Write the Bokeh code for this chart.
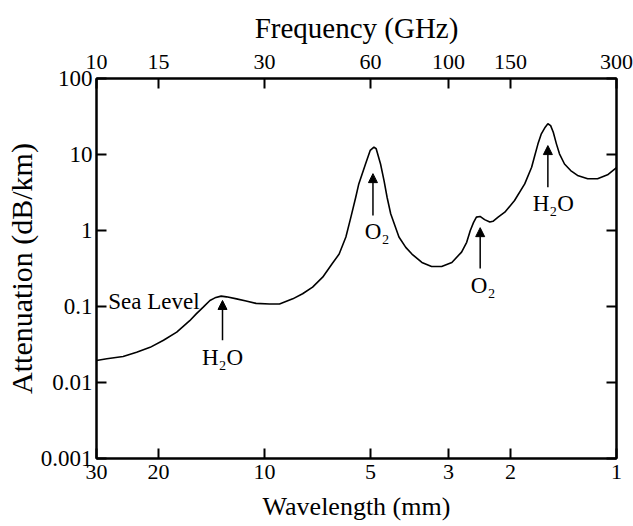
from bokeh.plotting import figure
from bokeh.models import LogAxis, FixedTicker, Range1d, Arrow, NormalHead, Label
from bokeh.embed import file_html
from bokeh.resources import INLINE

# Sea-level attenuation curve (x: frequency in GHz)
frequency_ghz = [10, 10.7, 11.9, 13.0, 14.2, 15.5, 16.9, 18.4, 19.2, 20.1,
                 21.0, 21.7, 22.6, 23.4, 25.0, 26.6, 28.4, 31.0, 33.1, 36.1,
                 38.5, 41.1, 43.9, 46.7, 48.9, 51.1, 52.8, 54.5, 55.6, 58.1,
                 59.9, 61.4, 62.3, 64.1, 65.6, 66.9, 68.5, 72.3, 75.6, 78.7,
                 84.0, 89.5, 95.6, 102.2, 108.9, 112.6, 115.3, 117.8, 120.0, 122.9,
                 126.6, 131.0, 133.7, 138.3, 144.5, 154.0, 164.6, 172.2, 175.8, 179.5,
                 183.5, 188.2, 191.5, 195.0, 198.4, 202.5, 206.6, 213.5, 222.3, 232.5,
                 248.5, 265.0, 283.0, 300.0]
attenuation_db_km = [0.0195, 0.0205, 0.022, 0.025, 0.029, 0.036, 0.046, 0.065, 0.080, 0.098,
                     0.12, 0.13, 0.137, 0.134, 0.126, 0.118, 0.110, 0.108, 0.108, 0.126,
                     0.147, 0.18, 0.243, 0.365, 0.49, 0.82, 1.5, 2.74, 4.1, 7.5,
                     11.3, 12.5, 11.9, 7.5, 4.5, 2.74, 1.66, 0.82, 0.6, 0.49,
                     0.38, 0.336, 0.336, 0.38, 0.52, 0.7, 1.0, 1.28, 1.5, 1.53,
                     1.39, 1.29, 1.32, 1.5, 1.74, 2.48, 4.1, 6.8, 9.7, 13.8,
                     18.7, 22.9, 25.4, 24.0, 19.6, 13.8, 10.2, 7.5, 6.15, 5.3,
                     4.79, 4.8, 5.4, 6.7]

# Axis ticks
freq_ticks = [10, 15, 30, 60, 100, 150, 300]
freq_tick_labels = ["10", "15", "30", "60", "100", "150", "300"]
wavelength_tick_labels = ["30", "20", "10", "5", "3", "2", "1"]
att_ticks = [0.001, 0.01, 0.1, 1, 10, 100]
att_tick_labels = ["0.001", "0.01", "0.1", "1", "10", "100"]

# Annotations: (label, arrow x, arrow tail y, arrow head y, label x, label y)
annotations = [
    ("H\u2082O", 22.8, 0.036, 0.12, 22.8, 0.031),
    ("O\u2082", 61.0, 1.57, 5.6, 62.7, 1.4),
    ("O\u2082", 123.0, 0.316, 1.09, 125.4, 0.28),
    ("H\u2082O", 191.5, 3.7, 13.1, 198.4, 3.26),
]

FONT = "Liberation Serif"

p = figure(width=633, height=526, x_axis_type="log", y_axis_type="log",
           x_range=Range1d(10, 300), y_range=Range1d(0.001, 100),
           output_backend="svg", toolbar_location=None,
           min_border_left=96, min_border_right=17, min_border_top=78, min_border_bottom=68)
p.grid.visible = False
p.outline_line_color = "black"
p.outline_line_width = 2
p.background_fill_color = "white"
p.border_fill_color = "white"


def style_axis(ax, font_size="23px"):
    ax.axis_line_width = 2
    ax.axis_line_color = "black"
    ax.major_tick_in = 10
    ax.major_tick_out = 0
    ax.major_tick_line_width = 2
    ax.minor_tick_line_color = None
    ax.major_label_text_font = FONT
    ax.major_label_text_font_size = font_size
    ax.major_label_text_color = "black"
    ax.axis_label_text_font = FONT
    ax.axis_label_text_font_style = "normal"
    ax.axis_label_text_color = "black"


# Bottom axis: wavelength labels at matching frequencies
xb = p.xaxis[0]
style_axis(xb, "22px")
xb.ticker = FixedTicker(ticks=freq_ticks)
xb.major_label_overrides = {f: w for f, w in zip(freq_ticks, wavelength_tick_labels)}
xb.axis_label = "Wavelength (mm)"
xb.axis_label_text_font_size = "26px"
xb.major_label_standoff = 6
xb.axis_label_standoff = 10

# Left axis
yl = p.yaxis[0]
style_axis(yl)
yl.ticker = FixedTicker(ticks=att_ticks)
yl.major_label_overrides = {v: s for v, s in zip(att_ticks, att_tick_labels)}
yl.axis_label = "Attenuation (dB/km)"
yl.axis_label_text_font_size = "30px"
yl.major_label_standoff = 4
yl.axis_label_standoff = 0

# Top axis: frequency
xt = LogAxis(ticker=FixedTicker(ticks=freq_ticks))
style_axis(xt, "22px")
xt.major_label_overrides = {f: s for f, s in zip(freq_ticks, freq_tick_labels)}
xt.axis_label = "Frequency (GHz)"
xt.axis_label_text_font_size = "29px"
xt.major_label_standoff = 10
xt.axis_label_standoff = 8
p.add_layout(xt, "above")

# Right axis: ticks only
yr = LogAxis(ticker=FixedTicker(ticks=att_ticks))
style_axis(yr, "1px")
yr.major_label_overrides = {v: "" for v in att_ticks}
yr.major_label_standoff = 0
yr.axis_label_standoff = 0
p.add_layout(yr, "right")

p.line(frequency_ghz, attenuation_db_km, line_color="black", line_width=1.6)

for text, x, y0, y1, xlab, ylab in annotations:
    p.add_layout(Arrow(end=NormalHead(size=9, fill_color="black", line_color="black", line_width=1),
                       x_start=x, y_start=y0, x_end=x, y_end=y1,
                       line_color="black", line_width=1.5))
    p.add_layout(Label(x=xlab, y=ylab, text=text, text_align="center", text_baseline="top",
                       text_font=FONT, text_font_size="23px", text_color="black"))

p.add_layout(Label(x=10.8, y=0.116, text="Sea Level", text_align="left",
                   text_baseline="alphabetic", text_font=FONT, text_font_size="23px",
                   text_color="black"))

open("out.html", "w").write(file_html(p, INLINE))
